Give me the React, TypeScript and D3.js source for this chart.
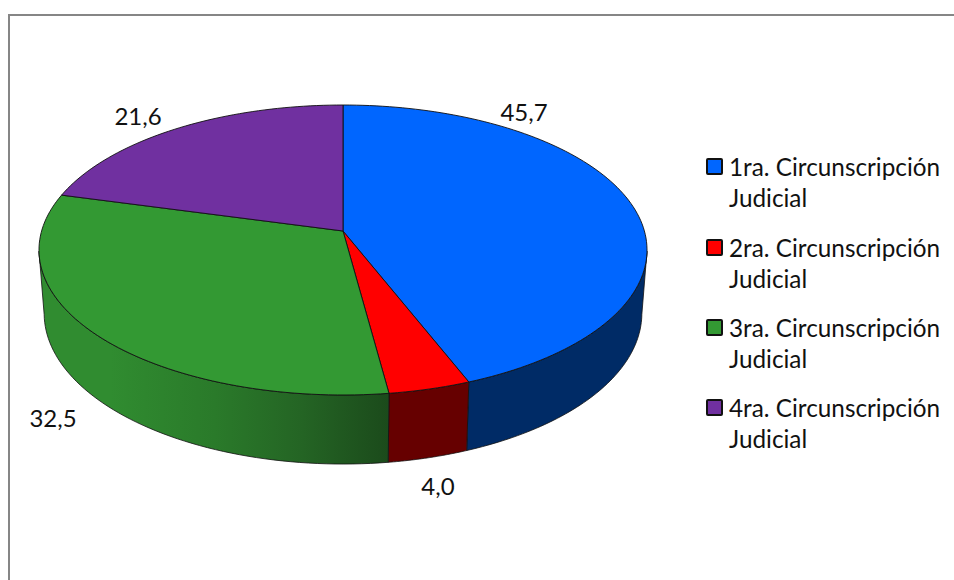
import * as d3 from "d3"

const categories = [
  "1ra. Circunscripción",
  "2ra. Circunscripción",
  "3ra. Circunscripción",
  "4ra. Circunscripción",
]
const values = [45.7, 4.0, 32.5, 21.6]
const valueLabels = ["45,7", "4,0", "32,5", "21,6"]
const topColors = ["#0066ff", "#ff0000", "#339933", "#7030a0"]
const sideColors = ["#002b66", "#660000", "url(#greenSide)", "#3a1a55"]

const labelPos: [number, number][] = [[524, 121], [438, 495], [53, 427], [138, 125]]
const legendRows = [167, 248, 328, 408]
const FONT = "Lato, 'Noto Sans', sans-serif"

// perspective projection of the pie disc (far edge is shrunk by k)
const cx = 343
const cy = 231
const k = 0.131
const a = 301.4
const b = 142.5

const project = (t: number): [number, number] => {
  const u = Math.sin(t)
  const v = Math.cos(t)
  const w = 1 + k * v
  return [cx + (a * u) / w, cy - (b * v) / w]
}

// lower rim of the cylinder
const projectLow = (t: number): [number, number] => {
  const [x, y] = project(t)
  return [cx + (x - cx) * 0.983, cy + (y - cy) * 1.04 + 62.5]
}

const pieGen = d3.pie<number>().sort(null)
const arcs = pieGen(values)
const line = d3.line()

const sideFrom = (98 * Math.PI) / 180
const sideTo = (262 * Math.PI) / 180

function sidePath(start: number, end: number) {
  const s = Math.max(start, sideFrom)
  const e = Math.min(end, sideTo)
  if (e <= s) return null
  const ts = d3.range(0, 61).map(i => s + ((e - s) * i) / 60)
  const pts = [...ts.map(project), ...ts.slice().reverse().map(projectLow)]
  return line(pts) + "Z"
}

function topPath(start: number, end: number) {
  const n = Math.max(4, Math.ceil((end - start) * 40))
  const ts = d3.range(0, n + 1).map(i => start + ((end - start) * i) / n)
  return line([[cx, cy], ...ts.map(project)]) + "Z"
}

export default function App() {
  return (
    <svg
      width={954}
      height={580}
      style={{ position: "absolute", left: 0, top: 0, background: "#fff" }}
    >
      <defs>
        <linearGradient id="greenSide" gradientUnits="userSpaceOnUse" x1={40} x2={390} y1={0} y2={0}>
          <stop offset="0" stopColor="#308c30" />
          <stop offset="0.2" stopColor="#308c30" />
          <stop offset="0.5" stopColor="#2a7a2a" />
          <stop offset="0.75" stopColor="#246424" />
          <stop offset="1" stopColor="#1b4a1b" />
        </linearGradient>
      </defs>
      <path d="M9,580V15H954" fill="none" stroke="#868686" strokeWidth={2} />

      {arcs.map((d, i) => {
        const p = sidePath(d.startAngle, d.endAngle)
        return p ? (
          <path key={i} d={p} fill={sideColors[i]} stroke="#111" strokeWidth={0.8} strokeLinejoin="round" />
        ) : null
      })}
      {arcs.map((d, i) => (
        <path
          key={i}
          d={topPath(d.startAngle, d.endAngle)}
          fill={topColors[i]}
          stroke="#111"
          strokeWidth={0.9}
          strokeLinejoin="round"
        />
      ))}

      {valueLabels.map((t, i) => (
        <text
          key={t}
          x={labelPos[i][0]}
          y={labelPos[i][1]}
          textAnchor="middle"
          fontFamily={FONT}
          fontSize={24}
          fill="#111"
        >
          {t}
        </text>
      ))}

      {categories.map((c, i) => (
        <g key={c} fontFamily={FONT} fontSize={24.3} fill="#111">
          <rect
            x={707}
            y={legendRows[i] - 8}
            width={15}
            height={15}
            rx={1}
            fill={topColors[i]}
            stroke="#111"
            strokeWidth={2}
          />
          <text x={729} y={legendRows[i] + 9}>{c}</text>
          <text x={729} y={legendRows[i] + 40}>Judicial</text>
        </g>
      ))}
    </svg>
  )
}
